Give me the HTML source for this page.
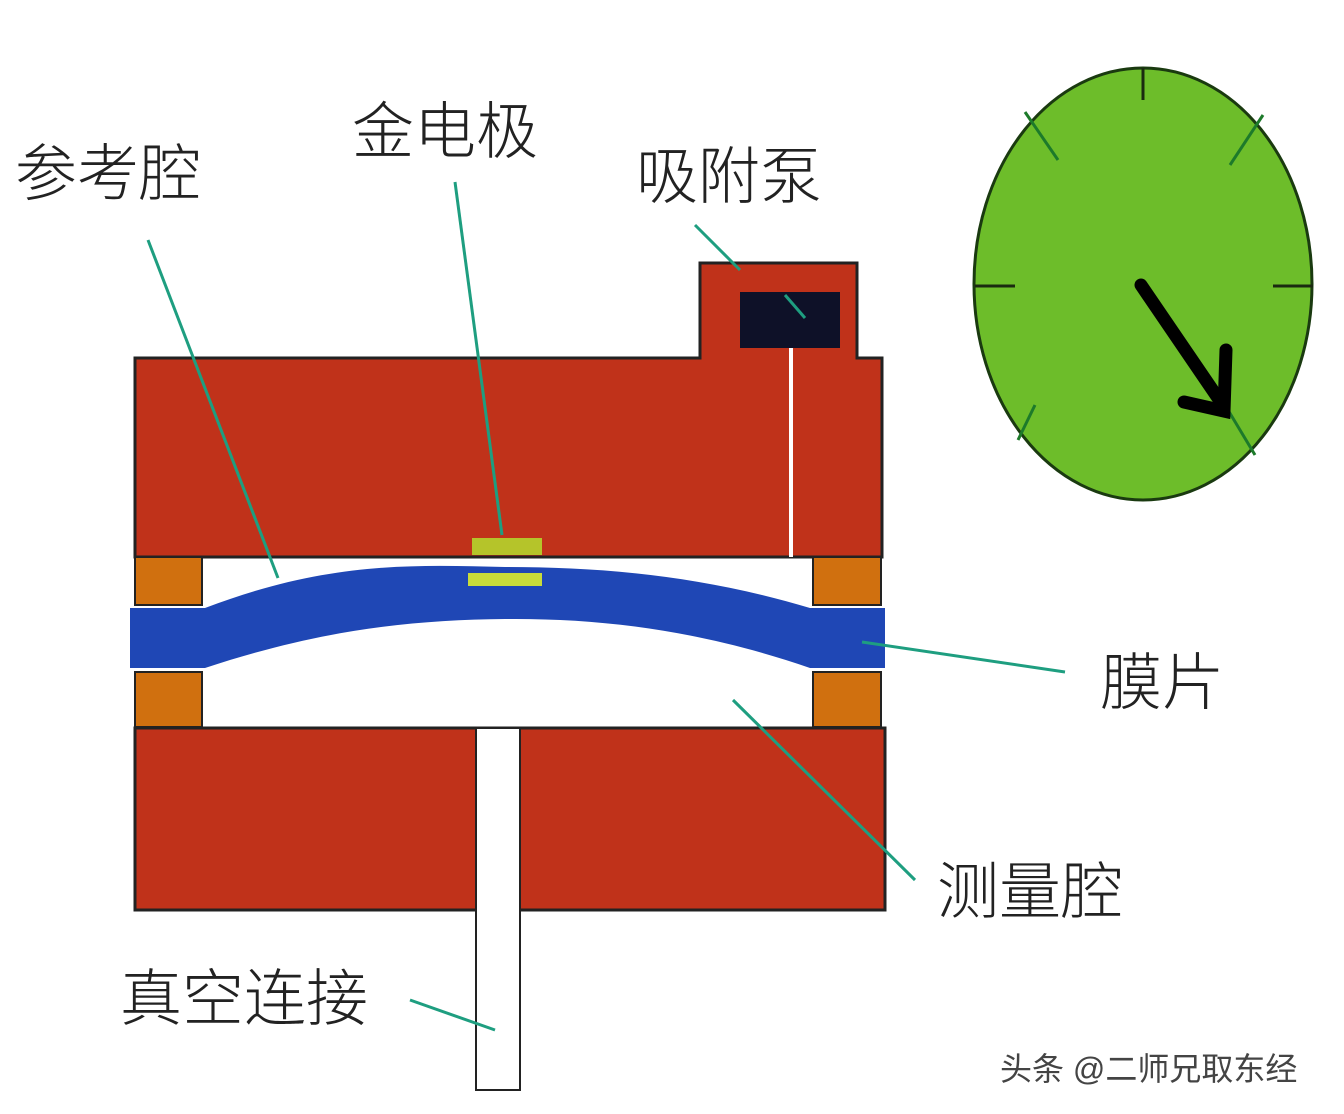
<!DOCTYPE html>
<html><head><meta charset="utf-8"><style>
body{margin:0;width:1344px;height:1114px;background:#fff;overflow:hidden}
svg{display:block}
text{font-family:"Liberation Sans","Noto Sans CJK SC",sans-serif;fill:#222}
</style></head><body>
<svg width="1344" height="1114" viewBox="0 0 1344 1114">
<path d="M135 358 H700 V263 H857 V358 H882 V557 H135 Z" fill="#c0321a" stroke="#222" stroke-width="3"/>
<rect x="740" y="292" width="100" height="56" fill="#0e1128"/>
<rect x="789" y="348" width="4" height="209" fill="#fff"/>
<rect x="135" y="557" width="67" height="48" fill="#d0700f" stroke="#222" stroke-width="2"/>
<rect x="813" y="557" width="68" height="48" fill="#d0700f" stroke="#222" stroke-width="2"/>
<rect x="135" y="672" width="67" height="55" fill="#d0700f" stroke="#222" stroke-width="2"/>
<rect x="813" y="672" width="68" height="55" fill="#d0700f" stroke="#222" stroke-width="2"/>
<path d="M130 608 H205 C330 560 420 565 505 567 C600 567 700 575 810 608 H885 V668 H810 C700 630 600 618 505 619 C410 620 320 630 205 668 H130 Z" fill="#1f47b5"/>
<rect x="472" y="538" width="70" height="17" fill="#b5c42a"/>
<rect x="468" y="573" width="74" height="13" fill="#c8dc3a"/>
<rect x="135" y="728" width="750" height="182" fill="#c0321a" stroke="#222" stroke-width="3"/>
<rect x="476" y="728" width="44" height="362" fill="#fff" stroke="#222" stroke-width="2"/>
<g stroke="#1e9e80" stroke-width="3" fill="none">
<line x1="148" y1="240" x2="278" y2="578"/>
<line x1="455" y1="182" x2="502" y2="535"/>
<line x1="695" y1="225" x2="740" y2="270"/>
<line x1="785" y1="295" x2="805" y2="318"/>
<line x1="862" y1="642" x2="1065" y2="672"/>
<line x1="733" y1="700" x2="915" y2="880"/>
<line x1="410" y1="1000" x2="495" y2="1030"/>
</g>
<ellipse cx="1143" cy="284" rx="169" ry="216" fill="#6dbd2a" stroke="#1a3a10" stroke-width="3"/>
<g stroke="#1a2a10" stroke-width="3">
<line x1="1143" y1="68" x2="1143" y2="100"/>
<line x1="975" y1="286" x2="1015" y2="286"/>
<line x1="1273" y1="286" x2="1313" y2="286"/>
</g>
<g stroke="#1d7a2a" stroke-width="3">
<line x1="1025" y1="112" x2="1058" y2="160"/>
<line x1="1263" y1="115" x2="1230" y2="165"/>
<line x1="1035" y1="405" x2="1018" y2="440"/>
<line x1="1228" y1="410" x2="1255" y2="455"/>
</g>
<path d="M1141 285 L1218 398" stroke="#000" stroke-width="13" stroke-linecap="round"/>
<path d="M1184 402 L1224 411 L1226 350" stroke="#000" stroke-width="13" fill="none" stroke-linejoin="miter" stroke-linecap="round"/>
<g font-size="62" font-weight="300">
<text x="15" y="195">参考腔</text>
<text x="352" y="153">金电极</text>
<text x="636" y="198">吸附泵</text>
<text x="1100" y="704">膜片</text>
<text x="937" y="913">测量腔</text>
<text x="120" y="1020">真空连接</text>
</g>
<text x="1000" y="1080" font-size="32" style="fill:#444">头条 @二师兄取东经</text>
</svg>
</body></html>
